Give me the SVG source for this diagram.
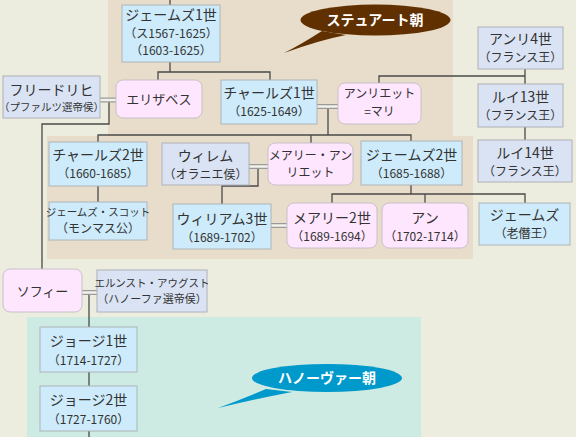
<svg xmlns="http://www.w3.org/2000/svg" width="576" height="437" viewBox="0 0 576 437">
<style>
text{font-family:"Noto Sans CJK JP","Noto Sans",sans-serif;fill:#333;text-anchor:middle}
.n{font-size:14px}
.y{font-size:12px}
.s{font-size:10.5px}
.blue{fill:#CDEBFA;stroke:#AEB4B8;stroke-width:1}
.lav{fill:#DAE3F3;stroke:#AEB0B8;stroke-width:1}
.pink{fill:#FFE6FF;stroke:#C8C0C8;stroke-width:1}
.ln{fill:none;stroke:#4A4A4A;stroke-width:1.3}
.dbo{fill:none;stroke:#9A9A9A;stroke-width:5}
.dbi{fill:none;stroke:#F2F2EA;stroke-width:2.6}
.call{fill:#fff;font-weight:bold;font-size:14px}
</style>
<rect width="576" height="437" fill="#EDEDDF"/>
<rect x="108" y="0" width="345" height="137" fill="#E8DCCA"/>
<rect x="47" y="136" width="426" height="123" fill="#E8DCCA"/>
<rect x="27" y="317" width="394" height="120" fill="#CDEBE3"/>

<g id="connectors">
<path class="ln" d="M170 0V5M170 62V72M158 80V72H270V80"/>
<path class="ln" d="M109 102V124H42V269"/>
<path class="ln" d="M328 108V135M98 142V135H411V141M311 135V143"/>
<path class="ln" d="M379 83V76H525M525 69V84M525 127V140"/>
<path class="ln" d="M98 186V202"/>
<path class="ln" d="M258 168V186H222V204"/>
<path class="ln" d="M411 185V194M332 203V194H525V203M425 194V203"/>
<path class="ln" d="M89 294V327M89 372V386M89 431V437"/>
<path class="dbo" d="M100 100H116M317 106.5H338M249 166.5H268M271 225.5H287M82 292.5H97"/>
<path class="dbi" d="M100 100H116M317 106.5H338M249 166.5H268M271 225.5H287M82 292.5H97"/>
</g>

<g id="stuart-label">
<path d="M322 31 Q300 45 284 53 Q320 40 346 35 Z" fill="#603000"/>
<ellipse cx="375.5" cy="20" rx="75" ry="15.5" fill="#603000"/>
<text class="call" x="375" y="25">ステュアート朝</text>
</g>
<g id="hanover-label">
<path d="M266 389 Q240 400 218 408 Q260 398 292 392 Z" fill="#0099CC"/>
<ellipse cx="327" cy="378" rx="75" ry="14" fill="#0099CC"/>
<text class="call" x="327" y="383">ハノーヴァー朝</text>
</g>

<g id="james1"><rect class="blue" x="122" y="5" width="98" height="57"/>
<text class="n" x="171" y="19.5">ジェームズ1世</text><text class="y" x="171" y="37.5">（ス1567-1625）</text><text class="y" x="171" y="55">（1603-1625）</text></g>
<g id="friedrich"><rect class="lav" x="3" y="76" width="97" height="42"/>
<text class="n" x="51.5" y="95">フリードリヒ</text><text class="s" x="51.5" y="111">（プファルツ選帝侯）</text></g>
<g id="elizabeth"><rect class="pink" x="116" y="80" width="86" height="38" rx="7"/>
<text style="font-size:13px" x="159" y="104">エリザベス</text></g>
<g id="charles1"><rect class="blue" x="221" y="80" width="96" height="44"/>
<text class="n" x="269" y="98">チャールズ1世</text><text class="y" x="269" y="116">（1625-1649）</text></g>
<g id="henriette"><rect class="pink" x="338" y="83" width="83" height="41" rx="7"/>
<text class="y" x="379.5" y="98">アンリエット</text><text class="y" x="379.5" y="115.5">=マリ</text></g>
<g id="henri4"><rect class="lav" x="478" y="27" width="85" height="42"/>
<text class="n" x="520.5" y="44">アンリ4世</text><text class="y" x="520.5" y="62">（フランス王）</text></g>
<g id="louis13"><rect class="lav" x="478" y="84" width="85" height="43"/>
<text class="n" x="520.5" y="102">ルイ13世</text><text class="y" x="520.5" y="120">（フランス王）</text></g>
<g id="louis14"><rect class="lav" x="478" y="140" width="94" height="42"/>
<text class="n" x="525" y="157.5">ルイ14世</text><text class="y" x="525" y="175.5">（フランス王）</text></g>
<g id="charles2"><rect class="blue" x="49" y="142" width="98" height="44"/>
<text class="n" x="98" y="160">チャールズ2世</text><text class="y" x="98" y="178">（1660-1685）</text></g>
<g id="monmouth"><rect class="blue" x="49" y="202" width="98" height="38"/>
<text class="s" x="98" y="216">ジェームズ・スコット</text><text class="y" x="98" y="233">（モンマス公）</text></g>
<g id="willem"><rect class="lav" x="162" y="143" width="87" height="42"/>
<text class="n" x="205.5" y="161">ウィレム</text><text class="y" x="205.5" y="179">（オラニエ侯）</text></g>
<g id="william3"><rect class="blue" x="173" y="204" width="98" height="45"/>
<text class="n" x="222" y="224">ウィリアム3世</text><text class="y" x="222" y="242">（1689-1702）</text></g>
<g id="mary-henriette"><rect class="pink" x="268" y="143" width="85" height="42" rx="7"/>
<text class="y" x="310.5" y="159.5">メアリー・アン</text><text class="y" x="310.5" y="177">リエット</text></g>
<g id="james2"><rect class="blue" x="361" y="141" width="101" height="44"/>
<text class="n" x="411.5" y="160">ジェームズ2世</text><text class="y" x="411.5" y="178">（1685-1688）</text></g>
<g id="mary2"><rect class="pink" x="287" y="203" width="90" height="45" rx="7"/>
<text class="n" x="332" y="223">メアリー2世</text><text class="y" x="332" y="241">（1689-1694）</text></g>
<g id="anne"><rect class="pink" x="382" y="203" width="86" height="45" rx="7"/>
<text class="n" x="425" y="223">アン</text><text class="y" x="425" y="241">（1702-1714）</text></g>
<g id="old-pretender"><rect class="blue" x="479" y="203" width="91" height="42"/>
<text class="n" x="524.5" y="219.5">ジェームズ</text><text class="y" x="524.5" y="237.5">（老僭王）</text></g>
<g id="sophie"><rect class="pink" x="3" y="269" width="79" height="43" rx="7"/>
<text style="font-size:13px" x="42.5" y="296">ソフィー</text></g>
<g id="ernst"><rect class="lav" x="97" y="270" width="110" height="42"/>
<text class="s" x="152" y="287">エルンスト・アウグスト</text><text style="font-size:11px" x="152" y="303">（ハノーファ選帝侯）</text></g>
<g id="george1"><rect class="blue" x="40" y="327" width="97" height="45"/>
<text class="n" x="88.5" y="346">ジョージ1世</text><text class="y" x="88.5" y="364.5">（1714-1727）</text></g>
<g id="george2"><rect class="blue" x="40" y="386" width="97" height="45"/>
<text class="n" x="88.5" y="405">ジョージ2世</text><text class="y" x="88.5" y="423.5">（1727-1760）</text></g>
</svg>
